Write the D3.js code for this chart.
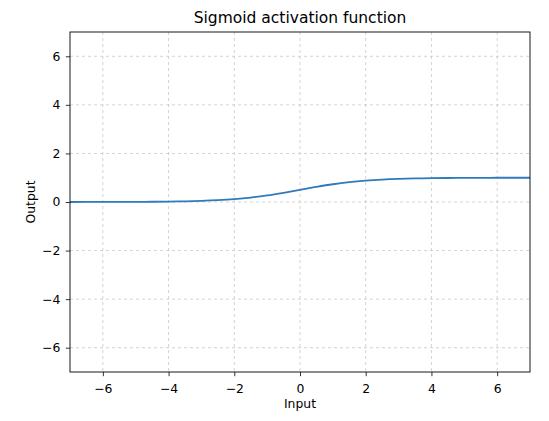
<!DOCTYPE html>
<html>
<head>
<meta charset="utf-8">
<script src="https://cdn.jsdelivr.net/npm/d3@7"></script>
<style>
  body { margin: 0; background: #fff; }
  text { font-family: "DejaVu Sans", sans-serif; fill: #000; }
</style>
</head>
<body>
<div id="chart"></div>
<script>
// values
var INPUT = [-7, -6.5, -6, -5.5, -5, -4.5, -4, -3.5, -3, -2.5, -2, -1.5, -1, -0.5,
  0, 0.5, 1, 1.5, 2, 2.5, 3, 3.5, 4, 4.5, 5, 5.5, 6, 6.5, 7];
var OUTPUT = [0.001, 0.0015, 0.0025, 0.004, 0.007, 0.011, 0.018, 0.029, 0.047, 0.076,
  0.119, 0.182, 0.269, 0.378, 0.5, 0.622, 0.731, 0.818, 0.881, 0.924, 0.953, 0.971,
  0.982, 0.989, 0.993, 0.996, 0.998, 0.998, 0.999];
var X_TICKS = [-6, -4, -2, 0, 2, 4, 6];
var Y_TICKS = [-6, -4, -2, 0, 2, 4, 6];

var W = 549, H = 421;
var margin = {top: 32, right: 19, bottom: 49, left: 70},
  width = W - margin.left - margin.right,
  height = H - margin.top - margin.bottom;

var svg = d3.select('#chart').append('svg')
  .attr('width', W)
  .attr('height', H);

var g = svg.append('g')
  .attr('transform', 'translate(' + margin.left + ',' + margin.top + ')');

var x = d3.scaleLinear().domain([-7, 7]).range([0, width]);
var y = d3.scaleLinear().domain([-7, 7]).range([height, 0]);

// grid
g.selectAll('.vgrid').data(X_TICKS).enter().append('line')
  .attr('x1', d => x(d)).attr('x2', d => x(d))
  .attr('y1', 0).attr('y2', height)
  .style('stroke', '#c8c8c8').style('stroke-width', 0.8)
  .style('stroke-dasharray', '3,3');
g.selectAll('.hgrid').data(Y_TICKS).enter().append('line')
  .attr('y1', d => y(d)).attr('y2', d => y(d))
  .attr('x1', 0).attr('x2', width)
  .style('stroke', '#c8c8c8').style('stroke-width', 0.8)
  .style('stroke-dasharray', '3,3');

// curve
var points = INPUT.map((v, i) => [v, OUTPUT[i]]);
var line = d3.line()
  .x(d => x(d[0]))
  .y(d => y(d[1]))
  .curve(d3.curveMonotoneX);

g.append('path')
  .datum(points)
  .attr('d', line)
  .style('fill', 'none')
  .style('stroke', '#2f7abd')
  .style('stroke-width', 1.8);

// axes
var xAxis = g.append('g')
  .attr('transform', 'translate(0,' + height + ')')
  .call(d3.axisBottom(x).tickValues(X_TICKS).tickSizeOuter(0).tickSize(4.2).tickPadding(8));
var yAxis = g.append('g')
  .call(d3.axisLeft(y).tickValues(Y_TICKS).tickSizeOuter(0).tickSize(4.2).tickPadding(5.5));

[xAxis, yAxis].forEach(function(a) {
  a.select('.domain').remove();
  a.selectAll('text').style('font-size', '12.4px').style('font-family', '"DejaVu Sans", sans-serif').attr('fill', '#000');
  a.selectAll('line').style('stroke', '#000').style('stroke-width', 0.8);
});

// frame
g.append('rect')
  .attr('width', width).attr('height', height)
  .style('fill', 'none').style('stroke', '#000').style('stroke-width', 0.9);

// labels
svg.append('text')
  .attr('x', margin.left + width / 2).attr('y', 23)
  .attr('text-anchor', 'middle')
  .style('font-size', '15.5px')
  .text('Sigmoid activation function');

svg.append('text')
  .attr('x', margin.left + width / 2).attr('y', 408)
  .attr('text-anchor', 'middle')
  .style('font-size', '12.4px')
  .text('Input');

svg.append('text')
  .attr('transform', 'translate(35,' + (margin.top + height / 2) + ') rotate(-90)')
  .attr('text-anchor', 'middle')
  .style('font-size', '12.4px')
  .text('Output');
</script>
</body>
</html>
